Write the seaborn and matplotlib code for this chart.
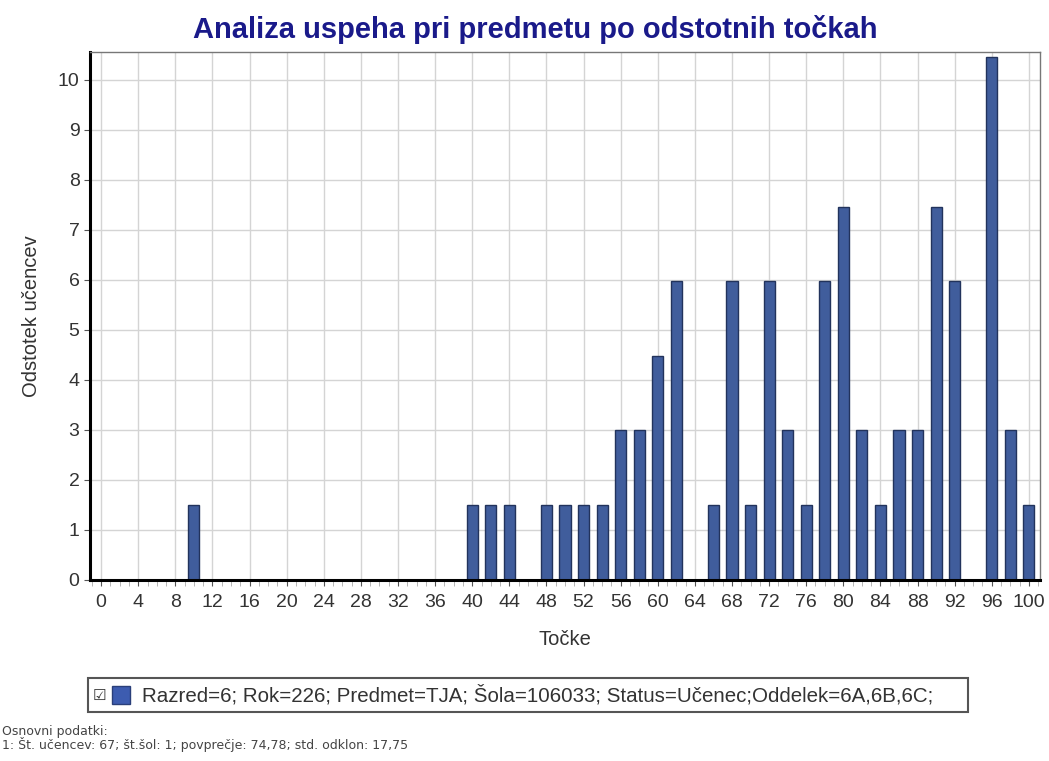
import pandas as pd
import matplotlib.pyplot as plt
import seaborn as sns
from matplotlib.patches import Rectangle
from matplotlib.ticker import MultipleLocator

sns.set_style("whitegrid")
plt.rcParams['font.family'] = ['Liberation Sans', 'DejaVu Sans']

# podatki
tocke = list(range(0, 101, 2))
odstotki = [0, 0, 0, 0, 0, 1.49, 0, 0, 0, 0,
            0, 0, 0, 0, 0, 0, 0, 0, 0, 0,
            1.49, 1.49, 1.49, 0, 1.49, 1.49, 1.49, 1.49, 2.99, 2.99,
            4.48, 5.97, 0, 1.49, 5.97, 1.49, 5.97, 2.99, 1.49, 5.97,
            7.46, 2.99, 1.49, 2.99, 2.99, 7.46, 5.97, 0, 10.45, 2.99,
            1.49]
x_ticks = list(range(0, 101, 4))
y_ticks = list(range(0, 11))

naslov = "Analiza uspeha pri predmetu po odstotnih točkah"
legenda = "Razred=6; Rok=226; Predmet=TJA; Šola=106033; Status=Učenec;Oddelek=6A,6B,6C;"
noga1 = "Osnovni podatki:"
noga2 = "1: Št. učencev: 67; št.šol: 1; povprečje: 74,78; std. odklon: 17,75"

df = pd.DataFrame({'tocke': tocke, 'odstotek': odstotki})

W, H = 1049, 761
fig = plt.figure(figsize=(W / 100, H / 100), dpi=100)
ax = fig.add_axes([90 / W, 1 - 580 / H, 950 / W, 528 / H])

bar_col = '#405d9c'
edge_col = '#22335c'
sns.barplot(data=df, x='tocke', y='odstotek', native_scale=True, width=0.6,
            color=bar_col, edgecolor=edge_col, linewidth=1, saturation=1, ax=ax)

ax.set_xlim(-1.2, 101.2)
ax.set_ylim(0, 10.55)
ax.set_xticks(x_ticks)
ax.set_yticks(y_ticks)
ax.xaxis.set_minor_locator(MultipleLocator(1))
ax.grid(True, which='major', color='#d4d4d4', linewidth=1)
ax.set_axisbelow(True)

ax.tick_params(axis='both', which='major', labelsize=14, labelcolor='#333333',
               length=4, color='#555555', bottom=True, left=True)
ax.tick_params(axis='x', which='minor', length=4, color='#aaaaaa', bottom=True)
ax.tick_params(axis='x', pad=6)

for s in ['left', 'bottom']:
    ax.spines[s].set_color('black')
    ax.spines[s].set_linewidth(2.2)
for s in ['top', 'right']:
    ax.spines[s].set_color('#777777')
    ax.spines[s].set_linewidth(1)

ax.set_xlabel("Točke", fontsize=14.5, color='#333333', labelpad=14)
ax.set_ylabel("Odstotek učencev", fontsize=14.5, color='#333333', labelpad=12)

fig.text(535 / W, 1 - 30 / H, naslov, ha='center', va='center', fontsize=21,
         fontweight='bold', color='#1a1a8a')

# legenda
fig.patches.append(Rectangle((88 / W, 1 - 712 / H), 880 / W, 34 / H,
                             transform=fig.transFigure, facecolor='white',
                             edgecolor='#555555', linewidth=1.5))
fig.patches.append(Rectangle((112 / W, 1 - 704 / H), 18 / W, 18 / H,
                             transform=fig.transFigure, facecolor='#3d5cb0',
                             edgecolor='#2a3f7a', linewidth=1))
fig.text(99 / W, 1 - 695 / H, "☑", ha='center', va='center', fontsize=11,
         color='#333333', family=['DejaVu Sans'])
fig.text(142 / W, 1 - 695 / H, legenda, ha='left', va='center', fontsize=14.8,
         color='#333333')

fig.text(2 / W, 1 - 731 / H, noga1, ha='left', va='center', fontsize=9,
         color='#444444', family=['DejaVu Sans'])
fig.text(2 / W, 1 - 745 / H, noga2, ha='left', va='center', fontsize=9,
         color='#444444', family=['DejaVu Sans'])

fig.savefig("out.png", dpi=100)
